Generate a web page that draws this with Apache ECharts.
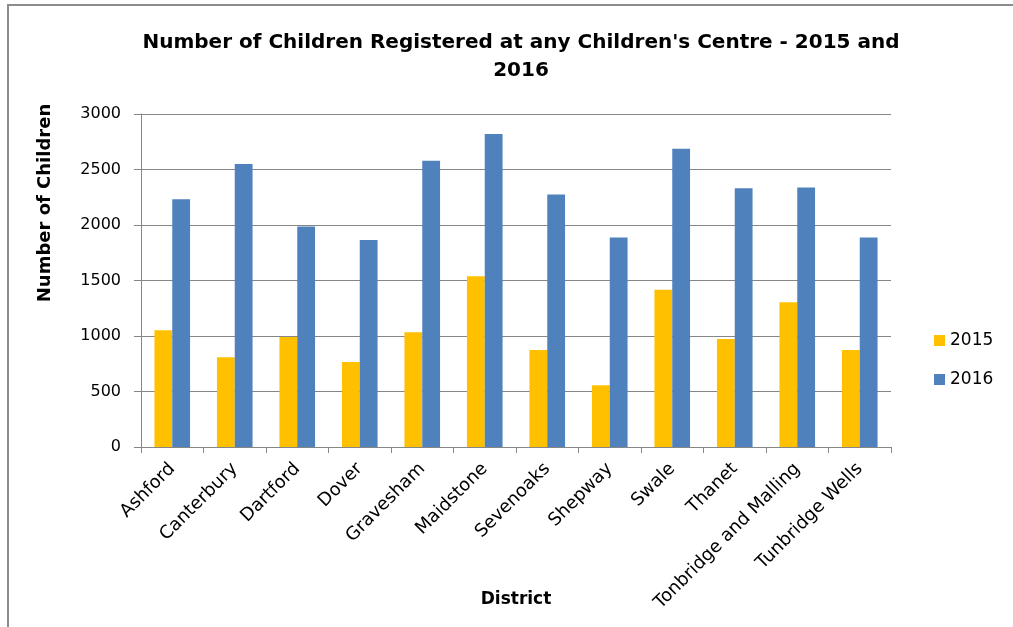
<!DOCTYPE html>
<html>
<head>
<meta charset="utf-8">
<script src="https://cdn.jsdelivr.net/npm/echarts@6/dist/echarts.min.js"></script>
<style>html,body{margin:0;padding:0;background:#fff}#c{width:1013px;height:627px}</style>
</head>
<body>
<div id="c"></div>
<script>
const categories = ['Ashford','Canterbury','Dartford','Dover','Gravesham','Maidstone','Sevenoaks','Shepway','Swale','Thanet','Tonbridge and Malling','Tunbridge Wells'];
const values2015 = [1052, 809, 992, 766, 1034, 1539, 875, 556, 1416, 974, 1304, 875];
const values2016 = [2233, 2549, 1987, 1864, 2579, 2819, 2275, 1888, 2687, 2332, 2338, 1888];
const seriesNames = ['2015', '2016'];
const titleText = "Number of Children Registered at any Children's Centre - 2015 and\n2016";
const xTitle = 'District';
const yTitle = 'Number of Children';

const F = 'DejaVu Sans';
const chart = echarts.init(document.getElementById('c'), null, {renderer: 'canvas'});
chart.setOption({
  animation: false,
  backgroundColor: '#fff',
  title: {
    text: titleText, left: 516, top: 24, textAlign: 'center',
    textStyle: {fontFamily: F, fontWeight: 'bold', fontSize: 20, color: '#000', lineHeight: 28}
  },
  legend: {
    orient: 'vertical', left: 929, top: 327, itemWidth: 11, itemHeight: 11, itemGap: 22,
    icon: 'rect',
    textStyle: {fontFamily: F, fontSize: 17, color: '#000', padding: [0,0,0,0]},
    data: seriesNames
  },
  grid: {left: 141, right: 122, top: 114, bottom: 180, containLabel: false, outerBoundsMode: 'none'},
  xAxis: {
    type: 'category', data: categories,
    name: xTitle, nameLocation: 'middle', nameGap: 144, nameMoveOverlap: false,
    nameTextStyle: {fontFamily: F, fontWeight: 'bold', fontSize: 17, color: '#000'},
    axisLine: {lineStyle: {color: '#868686', width: 1}},
    axisTick: {show: true, length: 6, alignWithLabel: false, lineStyle: {color: '#868686'}},
    axisLabel: {rotate: 45, interval: 0, fontFamily: F, fontSize: 18, color: '#000', margin: 19}
  },
  yAxis: {
    type: 'value', min: 0, max: 3000, interval: 500,
    axisLine: {show: true, lineStyle: {color: '#868686', width: 1}},
    axisTick: {show: true, length: 7, lineStyle: {color: '#868686'}},
    axisLabel: {fontFamily: F, fontSize: 16, color: '#000', margin: 20, formatter: function (v) { return String(v); }},
    splitLine: {lineStyle: {color: '#868686', width: 1}}
  },
  graphic: [
    {type: 'rect', shape: {x: 8, y: 5, width: 1200, height: 800}, style: {fill: 'none', stroke: '#8c8c8c', lineWidth: 2}, silent: true},
    {type: 'text', x: 45, y: 203, rotation: Math.PI / 2,
     style: {text: yTitle, font: 'bold 18px "DejaVu Sans"', fill: '#000', textAlign: 'center', textVerticalAlign: 'middle'}}
  ],
  series: [
    {name: seriesNames[0], type: 'bar', data: values2015, itemStyle: {color: '#FFC000'}, barGap: '0%', barCategoryGap: '43%'},
    {name: seriesNames[1], type: 'bar', data: values2016, itemStyle: {color: '#4F81BD'}, barGap: '0%', barCategoryGap: '43%'}
  ]
});
</script>
</body>
</html>
